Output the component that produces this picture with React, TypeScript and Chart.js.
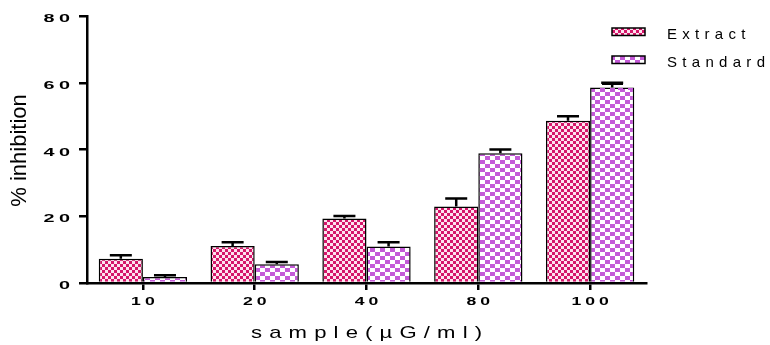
import React, { useEffect, useRef } from "react";
import { Chart, registerables } from "chart.js";

Chart.register(...registerables);

const categories = ["10", "20", "40", "80", "100"];
const extractValues = [7.3, 11.1, 19.3, 22.9, 48.6];
const extractErrors = [1.0, 1.1, 0.8, 2.4, 1.4];
const standardValues = [1.8, 5.6, 10.9, 38.9, 58.6];
const standardErrors = [0.5, 0.7, 1.3, 1.1, 1.4];
const yTickValues = [0, 20, 40, 60, 80];
const yTickLabels = ["0", "20", "40", "60", "80"];
const seriesNames = ["Extract", "Standard"];
const yTitle = "% inhibition";
const xTitle = "sample(\u00b5G/ml)";

function makePattern(c1: string, c2: string, cw: number, chh: number) {
  const off = document.createElement("canvas");
  off.width = cw * 2;
  off.height = chh * 2;
  const g = off.getContext("2d")!;
  g.fillStyle = c2;
  g.fillRect(0, 0, cw * 2, chh * 2);
  g.fillStyle = c1;
  g.fillRect(0, 0, cw, chh);
  g.fillRect(cw, chh, cw, chh);
  const ctx = document.createElement("canvas").getContext("2d")!;
  return ctx.createPattern(off, "repeat")!;
}

function drawStretched(
  ctx: CanvasRenderingContext2D,
  text: string,
  x: number,
  y: number,
  font: string,
  sx: number,
  spacing: number,
  align: CanvasTextAlign
) {
  ctx.save();
  ctx.font = font;
  (ctx as any).letterSpacing = spacing + "px";
  const w = ctx.measureText(text).width - spacing;
  ctx.translate(x, y);
  ctx.scale(sx, 1);
  ctx.textBaseline = "middle";
  ctx.textAlign = "left";
  let start = 0;
  if (align === "center") start = -w / 2;
  else if (align === "right") start = -w;
  ctx.fillStyle = "#000";
  ctx.fillText(text, start, 0);
  ctx.restore();
}

export default function App() {
  const ref = useRef<HTMLCanvasElement>(null);
  useEffect(() => {
    document.body.style.margin = "0";
    const extractPat = makePattern("#d5166a", "#fde3ee", 3, 3);
    const standardPat = makePattern("#c45ad8", "#ffffff", 5, 4);
    const pats = [extractPat, standardPat];
    const errs = [extractErrors, standardErrors];

    const overlay = {
      id: "overlay",
      afterDatasetsDraw(chart: any) {
        const ctx = chart.ctx as CanvasRenderingContext2D;
        const ys = chart.scales.y;
        ctx.save();
        ctx.strokeStyle = "#000";
        ctx.lineWidth = 2.5;
        chart.data.datasets.forEach((ds: any, di: number) => {
          const meta = chart.getDatasetMeta(di);
          meta.data.forEach((bar: any, i: number) => {
            const v = ds.data[i];
            const yTop = ys.getPixelForValue(v + errs[di][i]);
            const yBar = ys.getPixelForValue(v);
            ctx.beginPath();
            ctx.moveTo(bar.x, yBar);
            ctx.lineTo(bar.x, yTop);
            ctx.moveTo(bar.x - 11, yTop);
            ctx.lineTo(bar.x + 11, yTop);
            ctx.stroke();
          });
        });
        ctx.restore();
      },
      afterDraw(chart: any) {
        const ctx = chart.ctx as CanvasRenderingContext2D;
        const ys = chart.scales.y;
        const xs = chart.scales.x;
        const area = chart.chartArea;
        // y tick labels
        yTickValues.forEach((v, i) => {
          drawStretched(ctx, yTickLabels[i], area.left - 17, ys.getPixelForValue(v) + 3, "bold 11px 'Liberation Sans'", 1.8, 2.5, "right");
        });
        // x tick labels
        categories.forEach((c, i) => {
          drawStretched(ctx, c, xs.getPixelForValue(i), 302, "bold 11px 'Liberation Sans'", 1.6, 2.5, "center");
        });
        // y title
        ctx.save();
        ctx.translate(20, (area.top + area.bottom) / 2 + 1);
        ctx.rotate(-Math.PI / 2);
        ctx.font = "22px 'Liberation Sans'";
        ctx.fillStyle = "#000";
        ctx.textAlign = "center";
        ctx.textBaseline = "middle";
        ctx.fillText(yTitle, 0, 0);
        ctx.restore();
        // x title
        drawStretched(ctx, xTitle, (area.left + area.right) / 2, 333, "17px 'Liberation Sans'", 1.3, 5.5, "center");
        // legend
        const lx = 612;
        const boxTops = [28, 56];
        const textYs = [34.5, 62.5];
        seriesNames.forEach((name, i) => {
          ctx.save();
          ctx.fillStyle = pats[i];
          ctx.fillRect(lx, boxTops[i], 33, 7.5);
          ctx.strokeStyle = "#000";
          ctx.lineWidth = 1.5;
          ctx.strokeRect(lx, boxTops[i], 33, 7.5);
          ctx.restore();
          drawStretched(ctx, name, 667, textYs[i], "15px 'Liberation Sans'", 1.0, 5.3, "left");
        });
        ctx.save();
        ctx.fillStyle = "#000";
        ctx.fillRect(602, 82, 21, 3);
        ctx.fillStyle = "#c45ad8";
        [600, 610, 618, 628].forEach((sx) => ctx.fillRect(sx, 88, 5, 2));
        ctx.restore();
      },
    };

    const chart = new Chart(ref.current!, {
      type: "bar",
      data: {
        labels: categories,
        datasets: [
          {
            label: seriesNames[0],
            data: extractValues,
            backgroundColor: extractPat as any,
            borderColor: "#000",
            borderWidth: 1.5,
            categoryPercentage: 0.79,
            barPercentage: 1.0,
          },
          {
            label: seriesNames[1],
            data: standardValues,
            backgroundColor: standardPat as any,
            borderColor: "#000",
            borderWidth: 1.5,
            categoryPercentage: 0.79,
            barPercentage: 1.0,
          },
        ],
      },
      options: {
        responsive: false,
        animation: false,
        layout: { padding: { top: 16, right: 124, left: 0, bottom: 0 } },
        plugins: { legend: { display: false }, tooltip: { enabled: false } },
        scales: {
          x: {
            afterFit: (s: any) => {
              s.height = 62;
            },
            grid: {
              offset: false,
              drawOnChartArea: false,
              drawTicks: true,
              tickLength: 7,
              color: "#000",
              lineWidth: 2.5,
            },
            border: { color: "#000", width: 2.5 },
            ticks: { color: "rgba(0,0,0,0)", font: { size: 11 } },
          },
          y: {
            min: 0,
            max: 80,
            afterFit: (s: any) => {
              s.width = 87;
            },
            ticks: { stepSize: 20, color: "rgba(0,0,0,0)", font: { size: 11 } },
            grid: {
              drawOnChartArea: false,
              drawTicks: true,
              tickLength: 8,
              color: "#000",
              lineWidth: 2.5,
            },
            border: { color: "#000", width: 2.5 },
          },
        },
      },
      plugins: [overlay],
    });
    return () => chart.destroy();
  }, []);
  return <canvas ref={ref} width={770} height={345} style={{ display: "block" }} />;
}
